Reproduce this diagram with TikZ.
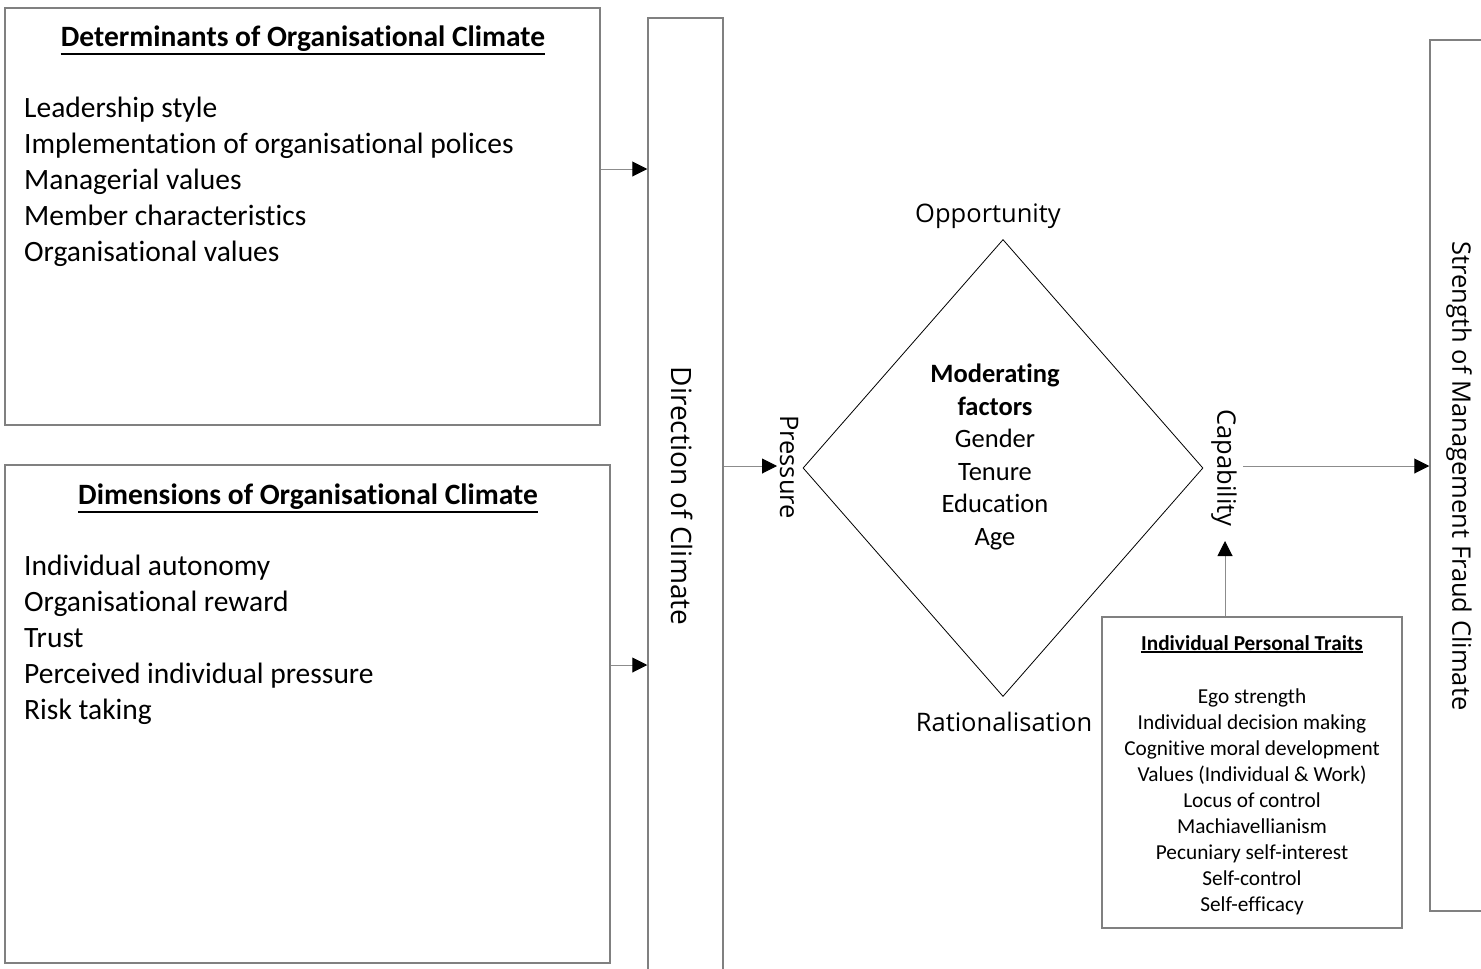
\documentclass[tikz,border=0pt]{standalone}
\usepackage{fontspec}
\setmainfont{Carlito}[Ligatures=NoCommon]
\newfontfamily\labfont{Open Sans}[Ligatures=NoCommon]
\usetikzlibrary{arrows.meta,shapes.geometric}
\tikzset{
  frame/.style={draw=black!50, line width=1.5pt, inner sep=0pt},
  txt/.style={inner sep=0pt, font=\fontsize{29.5}{36}\selectfont},
  ttl/.style={inner sep=0pt, font=\fontsize{29.5}{36}\selectfont\bfseries},
  uline/.style={draw=black, line width=2pt},
  lab/.style={inner sep=0pt, font=\labfont\fontsize{25.5}{31}\selectfont},
  listtxt/.style={txt, align=left, anchor=west},
  rottxt/.style={lab, rotate=-90},
  conn/.style={draw=black!45, line width=1pt, -{Triangle[length=15pt,width=15pt,color=black]}},
}
\begin{document}
\begin{tikzpicture}[x=1pt,y=-1pt]
\clip (0,0) rectangle (1481,969);
\fill[white] (0,0) rectangle (1481,969);
% boxes
\node[frame, minimum width=595pt, minimum height=417pt] (det) at (302.5,216.5) {};
\node[frame, minimum width=605pt, minimum height=498pt] (dim) at (307.5,714) {};
\node[frame, minimum width=75pt, minimum height=982pt] (dir) at (685.5,509) {};
\node[frame, minimum width=80pt, minimum height=871pt] (str) at (1470,475.5) {};
\node[frame, line width=1.2pt, minimum width=300pt, minimum height=311pt] (traits) at (1252,772.5) {};
\node[draw=black, line width=0.8pt, diamond, inner sep=0pt, minimum width=400pt, minimum height=457pt] (dia) at (1003,468) {};
% box 1 text
\node[ttl] (dettitle) at (303,39) {Determinants of Organisational Climate};
\draw[uline] ([yshift=-1.5pt]dettitle.south west) -- ([yshift=-1.5pt]dettitle.south east);
\node[listtxt] (detlist) at (24,182) {Leadership style\\Implementation of organisational polices\\Managerial values\\Member characteristics\\Organisational values};
% box 2 text
\node[ttl] (dimtitle) at (308,497) {Dimensions of Organisational Climate};
\draw[uline] ([yshift=-1.5pt]dimtitle.south west) -- ([yshift=-1.5pt]dimtitle.south east);
\node[listtxt] (dimlist) at (24,640) {Individual autonomy\\Organisational reward\\Trust\\Perceived individual pressure\\Risk taking};
% rotated labels
\node[rottxt, font=\labfont\fontsize{28}{34}\selectfont] (dirlab) at (682,496) {Direction of Climate};
\node[rottxt] (press) at (789,467) {Pressure};
\node[rottxt] (cap) at (1224,468) {Capability};
\node[rottxt] (strlab) at (1459,476) {Strength of Management Fraud Climate};
% diamond labels
\node[lab] (opp) at (988,216) {Opportunity};
\node[lab] (rat) at (1004,722) {Rationalisation};
\node[inner sep=0pt, align=center, font=\fontsize{26.5}{32.6}\selectfont] (mod) at (995,457) {\textbf{Moderating}\\\textbf{factors}\\Gender\\Tenure\\Education\\Age};
% traits text
\node[inner sep=0pt, font=\fontsize{21.3}{26}\selectfont\bfseries] (traitstitle) at (1252,643) {Individual Personal Traits};
\draw[uline, line width=1.5pt] ([yshift=-1pt]traitstitle.south west) -- ([yshift=-1pt]traitstitle.south east);
\node[inner sep=0pt, align=center, font=\fontsize{21.3}{26}\selectfont] (traitslist) at (1252,802) {Ego strength\\Individual decision making\\Cognitive moral development\\Values (Individual \& Work)\\Locus of control\\Machiavellianism\\Pecuniary self-interest\\Self-control\\Self-efficacy};
% connector coordinates
\coordinate (a1) at (0,169);
\coordinate (a2) at (0,665);
\coordinate (a3) at (0,466);
\coordinate (ptip) at (777,466);
\coordinate (capend) at (1243,466);
\coordinate (upx) at (1225,0);
\coordinate (captip) at (1225,541);
% connectors
\draw[conn] (det.east |- a1) -- (dir.west |- a1);
\draw[conn] (dim.east |- a2) -- (dir.west |- a2);
\draw[conn] (dir.east |- a3) -- (ptip);
\draw[conn] (capend) -- (str.west |- a3);
\draw[conn] (traits.north -| upx) -- (captip);
\end{tikzpicture}
\end{document}
